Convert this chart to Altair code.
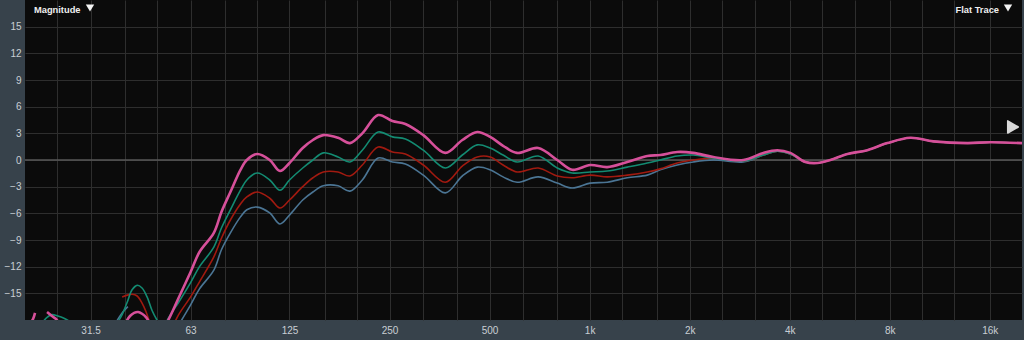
import altair as alt
import pandas as pd

# ---------------- data ----------------
FREQ = [51, 54, 58, 63, 67, 74, 78, 83, 89, 93,
        100, 109, 117, 125, 137, 147, 158, 175, 190, 207,
        231, 255, 279, 316, 368, 414, 459, 502, 549, 605,
        700, 799, 886, 1004, 1130, 1298, 1491, 1631, 1835, 2051,
        2356, 2900, 3332, 3670, 4017, 4457, 4844, 5300, 5964, 6850,
        7868, 9228, 10824, 13700, 16068, 20000]

PINK = [-19.7, -18.0, -15.5, -12.6, -10.35, -8.2, -5.85, -3.6, -1.1, 0.0,
        0.68, 0.0, -1.24, -0.34, 1.35, 2.25, 2.8, 2.5, 1.9, 3.0,
        5.06, 4.39, 4.05, 2.8, 0.8, 2.25, 3.15, 2.6, 1.6, 0.8,
        1.35, 0.0, -1.1, -0.56, -0.8, -0.22, 0.45, 0.56, 0.9, 0.8,
        0.34, 0.0, 0.8, 1.1, 0.8, -0.22, -0.34, 0.0, 0.68, 1.1,
        1.9, 2.5, 2.1, 1.9, 2.0, 1.9]

GREEN = [-19.7, -17.8, -16.0, -13.8, -12.0, -9.8, -7.65, -5.6, -3.4, -2.25,
         -1.46, -2.25, -3.4, -2.25, -0.9, 0.0, 0.8, 0.34, -0.22, 1.1,
         3.15, 2.6, 2.36, 1.1, -0.9, 0.56, 1.7, 1.35, 0.56, -0.22,
         0.45, -0.9, -1.46, -1.35, -1.24, -0.8, -0.34, 0.0, 0.45, 0.56,
         0.22, -0.11, 0.56, 1.0, 0.68, -0.22, -0.34, 0.0, 0.68, 1.1,
         1.9, 2.5, 2.1, 1.9, 2.0, 1.9]

RED = [-21.0, -19.7, -17.4, -15.4, -13.7, -10.9, -8.8, -6.75, -4.95, -4.16,
       -3.6, -4.3, -5.4, -4.5, -3.0, -2.0, -1.35, -1.35, -1.8, -0.56,
       1.46, 0.9, 0.68, -0.56, -2.5, -0.68, 0.34, 0.34, -0.56, -1.35,
       -0.9, -1.8, -2.0, -1.7, -1.9, -1.7, -1.35, -1.0, -0.34, 0.0,
       0.22, -0.11, 0.56, 1.0, 0.68, -0.22, -0.34, 0.0, 0.68, 1.1,
       1.9, 2.5, 2.1, 1.9, 2.0, 1.9]

BLUE = [-22.5, -21.0, -18.6, -16.3, -14.5, -12.4, -10.1, -8.2, -6.4, -5.6,
        -5.3, -5.96, -7.2, -6.2, -4.5, -3.6, -2.9, -2.9, -3.5, -2.25,
        0.22, -0.22, -0.45, -1.7, -3.7, -1.8, -0.8, -1.1, -1.9, -2.5,
        -1.9, -2.6, -3.15, -2.6, -2.5, -2.0, -1.7, -1.1, -0.56, -0.22,
        0.0, -0.22, 0.56, 1.0, 0.68, -0.22, -0.34, 0.0, 0.68, 1.1,
        1.9, 2.5, 2.1, 1.9, 2.0, 1.9]

# short low-frequency fragments that dip in and out of the bottom edge
PINK_FRAG_F = [[20.85, 21.14, 21.44],
               [23.3, 24.1, 24.96, 25.3],
               [40.3, 41.4, 42.6, 43.8, 45.0, 46.3, 47.2]]
PINK_FRAG_DB = [[-18.2, -17.9, -17.2],
                [-17.1, -17.55, -18.0, -18.45],
                [-18.2, -17.55, -17.2, -17.1, -17.3, -17.7, -18.2]]
GREEN_FRAG_F = [[22.66, 23.3, 24.1, 25.1, 26.2, 27.1],
                [38.1, 39.2, 40.6, 42.0, 43.5, 45.0, 46.6, 48.2, 49.9, 50.3]]
GREEN_FRAG_DB = [[-18.2, -17.7, -17.4, -17.55, -17.8, -18.1],
                 [-18.2, -17.4, -16.0, -14.6, -14.1, -14.4, -15.4, -16.9, -18.0, -18.2]]
RED_FRAG_F = [[39.2, 40.6, 42.0, 43.5, 45.0, 46.3, 47.2, 47.6]]
RED_FRAG_DB = [[-15.4, -15.2, -15.1, -15.3, -16.1, -17.1, -18.0, -18.2]]
BLUE_FRAG_F = [[37.8, 39.2, 40.8]]
BLUE_FRAG_DB = [[-18.1, -17.2, -16.5]]

GRID_FREQS = [25, 31.5, 40, 50, 63, 80, 100, 125, 160, 200, 250, 315, 400, 500,
              630, 800, 1000, 1250, 1600, 2000, 2500, 3150, 4000, 5000, 6300,
              8000, 10000, 12500, 16000]
LABEL_FREQS = [31.5, 63, 125, 250, 500, 1000, 2000, 4000, 8000, 16000]
LABEL_TEXT = ['31.5', '63', '125', '250', '500', '1k', '2k', '4k', '8k', '16k']
DB_TICKS = [-15, -12, -9, -6, -3, 0, 3, 6, 9, 12, 15]

# ---------------- styling ----------------
BG = '#37424b'
PLOT_BG = '#0b0b0b'
GRID = '#2e2e2e'
LABEL = '#c9ced3'
FONT = 'Liberation Sans'

label_expr = (f"indexof({LABEL_FREQS}, datum.value) >= 0 ? "
              f"{LABEL_TEXT}[indexof({LABEL_FREQS}, datum.value)] : ''")

X = alt.X('freq:Q',
          scale=alt.Scale(type='log', domain=[20, 20000], nice=False, zero=False),
          axis=alt.Axis(values=GRID_FREQS, labelExpr=label_expr, title=None,
                        grid=True, gridColor=GRID, gridWidth=1, ticks=False,
                        domain=False, labelOverlap=False, labelPadding=5,
                        labelFlush=False, labelBound=False))
Y = alt.Y('db:Q',
          scale=alt.Scale(domain=[-18, 18], nice=False, zero=False),
          axis=alt.Axis(values=DB_TICKS, title=None, grid=True, gridColor=GRID,
                        gridWidth=1, ticks=False, domain=False, labelPadding=4))


def series(freq, db, frag_f, frag_db, color, width):
    rows = [{'freq': f, 'db': d, 'seg': 0} for f, d in zip(freq, db)]
    for i, (ff, dd) in enumerate(zip(frag_f, frag_db), start=1):
        rows += [{'freq': f, 'db': d, 'seg': i} for f, d in zip(ff, dd)]
    return alt.Chart(pd.DataFrame(rows)).mark_line(
        color=color, strokeWidth=width, interpolate='catmull-rom', clip=True
    ).encode(x=X, y=Y, detail='seg:N')


zero = alt.Chart(pd.DataFrame({'db': [0]})).mark_rule(
    color='#595959', strokeWidth=1.5).encode(y=Y)

blue = series(FREQ, BLUE, BLUE_FRAG_F, BLUE_FRAG_DB, '#4b7594', 1.6)
red = series(FREQ, RED, RED_FRAG_F, RED_FRAG_DB, '#a11a10', 1.6)
green = series(FREQ, GREEN, GREEN_FRAG_F, GREEN_FRAG_DB, '#138b72', 1.6)
pink = series(FREQ, PINK, PINK_FRAG_F, PINK_FRAG_DB, '#d6509a', 2.6)

dummy = pd.DataFrame({'t': ['Magnitude']})
mag_text = alt.Chart(dummy).mark_text(
    align='left', baseline='middle', font=FONT, fontSize=9.3, fontWeight='bold',
    color='#efefef').encode(x=alt.value(9), y=alt.value(10), text='t:N')
flat_text = alt.Chart(pd.DataFrame({'t': ['Flat Trace']})).mark_text(
    align='right', baseline='middle', font=FONT, fontSize=9.3, fontWeight='bold',
    color='#efefef').encode(x=alt.value(974), y=alt.value(10), text='t:N')
tri1 = alt.Chart(dummy).mark_point(
    shape='triangle-down', filled=True, size=70, color='#f4f4f4', opacity=1
).encode(x=alt.value(65), y=alt.value(8))
tri2 = alt.Chart(dummy).mark_point(
    shape='triangle-down', filled=True, size=70, color='#f4f4f4', opacity=1
).encode(x=alt.value(983), y=alt.value(8))
handle = alt.Chart(dummy).mark_point(
    shape='triangle-right', filled=True, size=150, color='#d9d9d9', opacity=1,
    stroke='#d9d9d9', strokeWidth=1.5, strokeJoin='round'
).encode(x=alt.value(988), y=alt.value(127))

chart = alt.layer(
    zero, blue, red, green, pink, mag_text, flat_text, tri1, tri2, handle
).properties(
    width=997, height=320,
    autosize=alt.AutoSizeParams(type='none'),
    padding={'left': 25, 'top': 0, 'right': 2, 'bottom': 20},
    background=BG,
).configure_view(
    fill=PLOT_BG, strokeWidth=0
).configure_axis(
    labelFont=FONT, labelFontSize=10, labelColor=LABEL
)

chart.save("out.html", embed_options={"renderer": "svg", "actions": False})
